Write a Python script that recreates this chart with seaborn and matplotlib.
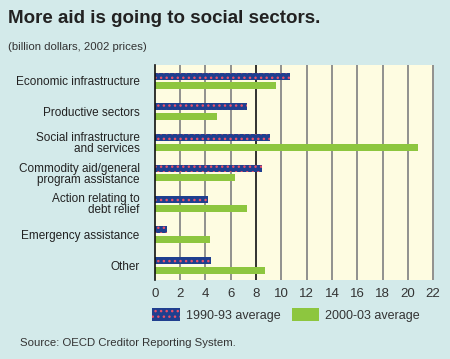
import matplotlib
matplotlib.use("Agg")
import matplotlib.pyplot as plt
import seaborn as sns
import pandas as pd
from matplotlib.patches import Patch
from matplotlib import font_manager

categories = ["Economic infrastructure", "Productive sectors",
              "Social infrastructure\nand services",
              "Commodity aid/general\nprogram assistance",
              "Action relating to\ndebt relief", "Emergency assistance", "Other"]
series_names = ["1990-93 average", "2000-03 average"]
values_1990 = [10.7, 7.3, 9.1, 8.5, 4.2, 0.95, 4.45]
values_2000 = [9.6, 4.9, 20.8, 6.3, 7.3, 4.35, 8.7]
x_ticks = list(range(0, 23, 2))

sns.set_theme(style="white")
names = {f.name for f in font_manager.fontManager.ttflist}
fam = ["Liberation Sans Narrow", "DejaVu Sans"] if "Liberation Sans Narrow" in names else ["Liberation Sans", "DejaVu Sans"]
plt.rcParams["font.family"] = fam
plt.rcParams["hatch.linewidth"] = 1.0

BG = "#d3eaea"
PLOT_BG = "#fefce1"
BLUE = "#1f3f8f"
RED = "#e8506a"
GREEN = "#8dc63f"

df = pd.DataFrame({
    "category": categories * 2,
    "value": values_1990 + values_2000,
    "series": [series_names[0]] * len(categories) + [series_names[1]] * len(categories),
})

fig = plt.figure(figsize=(4.5, 3.59), dpi=100, facecolor=BG)
ax = fig.add_axes([0.344, 0.22, 0.62, 0.599])
ax.set_facecolor(PLOT_BG)

sns.barplot(data=df, x="value", y="category", hue="series", order=categories,
            hue_order=series_names, palette=[BLUE, GREEN], width=0.62, gap=0.27,
            orient="h", ax=ax, legend=False, zorder=3)

n = len(categories)
for i, p in enumerate(ax.patches[:2 * n]):
    if i < n:
        p.set_facecolor(BLUE)
        p.set_hatch("...")
        p.set_edgecolor(RED)
        p.set_linewidth(0)
    else:
        p.set_facecolor(GREEN)
        p.set_edgecolor(GREEN)
        p.set_linewidth(0)

ax.set_xlim(0, 22.05)
ax.set_ylim(6.48, -0.52)
ax.set_xticks(x_ticks)
ax.set_xticklabels([str(t) for t in x_ticks], fontsize=9.5, color="#333333")
ax.tick_params(axis="x", length=3, width=1, color="#777777", pad=3)
ax.tick_params(axis="y", length=0, pad=11, labelsize=8.5, labelcolor="#222222")
for lab in ax.get_yticklabels():
    lab.set_linespacing(0.9)
ax.set_xlabel("")
ax.set_ylabel("")
for t in x_ticks:
    if t == 0:
        continue
    ax.axvline(t, color="#222222" if t == 8 else "#888888", lw=1.3, zorder=1)
for s in ["top", "right", "bottom"]:
    ax.spines[s].set_visible(False)
ax.spines["left"].set_color("#111111")
ax.spines["left"].set_linewidth(1.2)
ax.spines["left"].set_zorder(4)

fig.text(0.018, 0.948, "More aid is going to social sectors.", fontsize=13.5,
         fontweight="bold", color="#222222", va="center", ha="left")
fig.text(0.018, 0.87, "(billion dollars, 2002 prices)", fontsize=8.2,
         color="#333333", va="center", ha="left")
fig.text(0.044, 0.044, "Source: OECD Creditor Reporting System.", fontsize=8.2,
         color="#333333", va="center", ha="left")

handles = [Patch(facecolor=BLUE, edgecolor=RED, hatch="...", linewidth=0),
           Patch(facecolor=GREEN, edgecolor=GREEN, linewidth=0)]
fig.legend(handles, series_names, loc="center left", bbox_to_anchor=(0.338, 0.123),
           ncol=2, frameon=False, fontsize=9, handlelength=2.2, handleheight=1.3,
           columnspacing=0.9, handletextpad=0.5, labelcolor="#333333",
           borderaxespad=0, borderpad=0)

fig.savefig("out.png", dpi=100, facecolor=BG)
